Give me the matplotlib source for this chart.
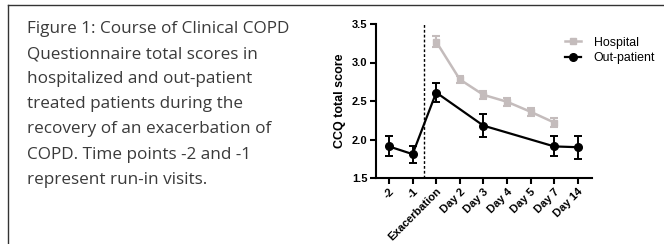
import numpy as np
import matplotlib
matplotlib.use("Agg")
import matplotlib.pyplot as plt
from matplotlib.lines import Line2D

# data
time_labels = ["-2", "-1", "Exacerbation", "Day 2", "Day 3", "Day 4", "Day 5", "Day 7", "Day 14"]

hosp_idx = [2, 3, 4, 5, 6, 7]
hosp_mean = [3.27, 2.78, 2.58, 2.49, 2.36, 2.22]
hosp_err = [0.07, 0.05, 0.05, 0.05, 0.05, 0.06]

out_idx = [0, 1, 2, 4, 7, 8]
out_mean = [1.91, 1.81, 2.61, 2.18, 1.91, 1.90]
out_err = [0.13, 0.11, 0.12, 0.15, 0.13, 0.15]

caption = ("Figure 1: Course of Clinical COPD\n"
           "Questionnaire total scores in\n"
           "hospitalized and out-patient\n"
           "treated patients during the\n"
           "recovery of an exacerbation of\n"
           "COPD. Time points -2 and -1\n"
           "represent run-in visits.")

fig = plt.figure(figsize=(6.64, 2.44), dpi=100)

# frame around the caption box (cut off at right and bottom)
fig.add_artist(Line2D([8/664, 1], [1 - 5/244, 1 - 5/244], transform=fig.transFigure,
                      color="#333333", lw=1))
fig.add_artist(Line2D([8/664, 8/664], [0, 1 - 5/244], transform=fig.transFigure,
                      color="#333333", lw=1))

fig.text(27/664, 1 - 21/244, caption, ha="left", va="top", fontsize=12.3,
         family="Open Sans", color="#3a3a3a", linespacing=1.76)

ax = fig.add_axes([376/664, 1 - 178/244, (592 - 376)/664, (178 - 24)/244])

ax.errorbar(hosp_idx, hosp_mean, yerr=hosp_err, color="#c4bcbc", lw=1.8,
            marker="s", ms=5, capsize=3, elinewidth=1.5, capthick=1.5, zorder=2)
ax.errorbar(out_idx, out_mean, yerr=out_err, color="black", lw=1.6,
            marker="o", ms=5.5, capsize=3, elinewidth=1.4, capthick=1.4, zorder=3)

ax.axvline(1.5, color="black", lw=1, ls=(0, (2, 1.5)))

ax.set_xlim(-0.55, 8.6)
ax.set_ylim(1.5, 3.5)
ax.set_yticks([1.5, 2.0, 2.5, 3.0, 3.5])
ax.set_yticklabels(["1.5", "2.0", "2.5", "3.0", "3.5"])
ax.set_xticks(range(len(time_labels)))
ax.set_xticklabels(time_labels, rotation=45, ha="right", rotation_mode="anchor")

for s in ["top", "right"]:
    ax.spines[s].set_visible(False)
for s in ["left", "bottom"]:
    ax.spines[s].set_linewidth(1.5)
ax.tick_params(direction="out", length=4, width=1.5, pad=2)
for lab in ax.get_xticklabels() + ax.get_yticklabels():
    lab.set_family("Liberation Sans")
    lab.set_fontweight("bold")
    lab.set_fontsize(8)

ax.set_ylabel("CCQ total score", family="Liberation Sans", fontweight="bold",
              fontsize=9, labelpad=4)

handles = [Line2D([], [], color="#c4bcbc", lw=1.8, marker="s", ms=5),
           Line2D([], [], color="black", lw=1.6, marker="o", ms=5.5)]
ax.legend(handles, ["Hospital", "Out-patient"], loc="upper left",
          bbox_to_anchor=(0.825, 0.99), frameon=False,
          prop={"family": "Liberation Sans", "size": 8.9},
          handlelength=1.3, handletextpad=1.0, labelspacing=0.3)

fig.savefig("out.png", dpi=100)
